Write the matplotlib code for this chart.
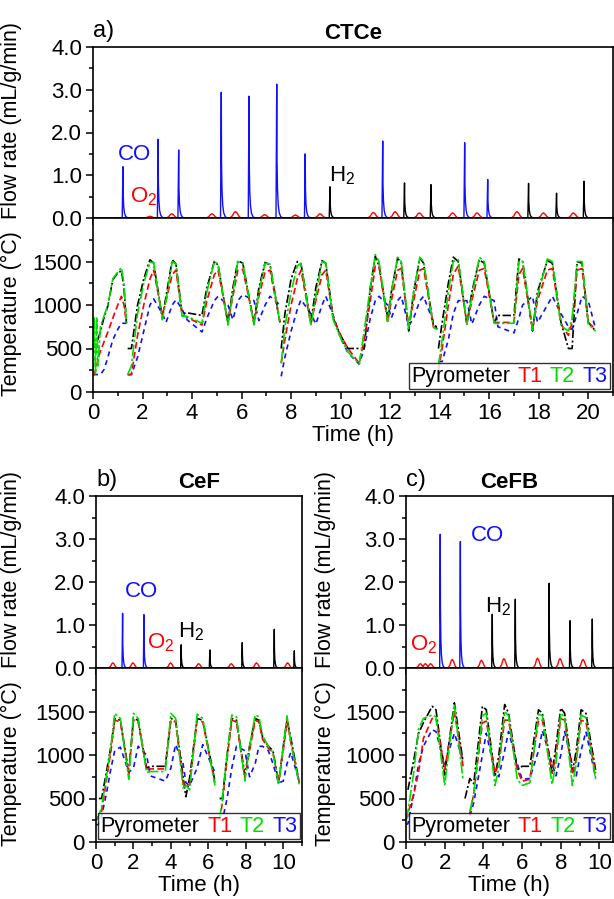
import numpy as np
import matplotlib
matplotlib.use('Agg')
import matplotlib.pyplot as plt
from matplotlib.ticker import MultipleLocator, FixedLocator
from matplotlib.lines import Line2D

plt.rcParams['font.family'] = 'Liberation Sans'
plt.rcParams['mathtext.fontset'] = 'custom'
plt.rcParams['mathtext.rm'] = 'Liberation Sans'
plt.rcParams['font.size'] = 16

nan = np.nan
BLUE, RED, GREEN, BLACK = '#1010ff', '#ff0000', '#00dd00', '#000000'

# peak shapes (offset in h, fraction of peak height)
SPIKE_DT = [-0.03, 0.0, 0.01, 0.03, 0.06, 0.10, 0.16, 0.25]
SPIKE_FRAC = [0.0, 1.0, 0.45, 0.22, 0.10, 0.04, 0.01, 0.0]
BUMP_DT = [-0.22, -0.12, -0.05, 0.0, 0.06, 0.14, 0.22]
BUMP_FRAC = [0.0, 0.35, 0.85, 1.0, 0.8, 0.3, 0.0]

## a) CTCe flow
a_co_t = [1.21, 2.63, 3.46, 5.18, 6.30, 7.42, 8.57, 11.70, 15.01, 15.94]
a_co_h = [1.20, 1.84, 1.59, 2.94, 2.85, 3.13, 1.50, 1.80, 1.76, 0.90]
a_h2_t = [9.57, 12.58, 13.65, 17.59, 18.72, 19.83]
a_h2_h = [0.73, 0.82, 0.78, 0.81, 0.58, 0.86]
a_o2_t = [2.30, 3.18, 4.80, 5.75, 6.93, 8.17, 9.17, 11.32, 12.20, 13.18, 14.52, 15.51, 17.12, 18.19, 19.40]
a_o2_h = [0.04, 0.10, 0.10, 0.15, 0.08, 0.07, 0.10, 0.13, 0.15, 0.12, 0.12, 0.12, 0.15, 0.12, 0.12]

## a) CTCe temperature, four measurement segments
a_seg_t = [
    [0.0, 0.05, 0.1, 0.15, 0.2, 0.3, 0.45, 0.6, 0.8, 1.0, 1.15, 1.25, 1.35],
    [1.40, 1.55, 1.8, 2.05, 2.3, 2.45, 2.8, 2.95, 3.2, 3.35, 3.6, 3.8, 4.4, 4.6, 4.9, 5.05,
     5.45, 5.65, 5.85, 6.05, 6.5, 6.7, 6.95, 7.15, 7.55],
    [7.6, 7.75, 8.0, 8.25, 8.4, 8.8, 9.0, 9.25, 9.4, 9.7, 10.0, 10.3, 10.75, 10.95, 11.2, 11.4,
     11.55, 11.9, 12.05, 12.3, 12.45, 12.75, 12.95, 13.2, 13.35, 13.75, 13.9],
    [13.95, 14.1, 14.35, 14.55, 14.75, 15.1, 15.3, 15.6, 15.8, 16.2, 16.35, 17.0, 17.2, 17.35,
     17.75, 17.95, 18.35, 18.55, 18.9, 19.2, 19.35, 19.55, 19.75, 20.0, 20.3],
]
a_pyro = [
    [nan, nan, nan, nan, 600, 700, 860, 990, 1290, 1370, 1390, 1200, 790],
    [500, 500, 1000, 1300, 1520, 1480, 850, 1100, 1520, 1470, 900, 910, 880, 1200, 1500, 1460,
     790, 1200, 1510, 1480, 790, 1200, 1490, 1460, 800],
    [500, 900, 1300, 1500, 1470, 800, 1200, 1510, 1480, 850, 650, 500, 500, 500, 1200, 1560,
     1450, 850, 1150, 1540, 1480, 700, 1150, 1540, 1480, 760, 750],
    [500, 800, 1250, 1550, 1500, 780, 1150, 1520, 1480, 800, 880, 880, 1530, 1500, 700, 1150,
     1510, 1480, 800, 500, 500, 1500, 1480, 800, 700],
]
a_t1 = [
    [200, 200, 250, 300, 380, 470, 580, 690, 850, 1000, 1100, 1000, 790],
    [200, 200, 650, 1000, 1300, 1400, 880, 1050, 1350, 1400, 880, 860, 770, 1050, 1350, 1400,
     800, 1100, 1400, 1410, 800, 1100, 1380, 1400, 800],
    [330, 600, 1000, 1300, 1400, 780, 1050, 1350, 1400, 850, 650, 500, 330, 600, 1050, 1450,
     1450, 800, 1050, 1400, 1420, 750, 1050, 1400, 1420, 750, 720],
    [250, 500, 1000, 1350, 1450, 780, 1050, 1400, 1420, 800, 800, 800, 1350, 1420, 720, 1050,
     1400, 1420, 780, 650, 800, 1400, 1420, 800, 720],
]
a_t2 = [
    [200, 860, 200, 860, 300, 750, 880, 1000, 1300, 1380, 1430, 1250, 790],
    [200, 300, 900, 1250, 1490, 1490, 830, 1050, 1500, 1470, 870, 870, 790, 1150, 1500, 1470,
     770, 1150, 1500, 1480, 770, 1150, 1480, 1470, 790],
    [330, 750, 1150, 1450, 1480, 760, 1100, 1500, 1480, 830, 620, 460, 320, 700, 1200, 1580,
     1500, 810, 1150, 1550, 1500, 730, 1150, 1550, 1500, 740, 720],
    [300, 600, 1150, 1500, 1520, 780, 1100, 1550, 1500, 790, 790, 790, 1500, 1500, 710, 1100,
     1530, 1500, 760, 700, 850, 1500, 1500, 780, 700],
]
a_t3 = [
    [200, 200, 200, 200, 200, 200, 260, 400, 600, 720, 790, 790, 790],
    [200, 200, 400, 700, 1000, 1070, 900, 800, 1000, 1060, 950, 830, 690, 850, 1050, 1100,
     1000, 830, 1050, 1120, 1050, 820, 1000, 1100, 1000],
    [180, 400, 700, 950, 1060, 900, 780, 1000, 1100, 880, 620, 450, 320, 500, 850, 1050,
     1100, 1000, 850, 1050, 1100, 760, 850, 1050, 1100, 800, 720],
    [350, 350, 600, 900, 1050, 1050, 780, 1000, 1100, 1050, 750, 680, 850, 1000, 1100, 800,
     1000, 1100, 900, 750, 720, 900, 1100, 1050, 720],
]

## b) CeF
b_co_t = [1.42, 2.56]
b_co_h = [1.27, 1.24]
b_h2_t = [4.55, 6.08, 7.81, 9.52, 10.59]
b_h2_h = [0.54, 0.42, 0.59, 0.90, 0.40]
b_o2_t = [0.90, 1.97, 3.98, 5.48, 7.22, 8.57, 10.23]
b_o2_h = [0.12, 0.12, 0.12, 0.10, 0.10, 0.12, 0.12]

b_seg_t = [
    [0.0, 0.15, 0.3, 0.55, 0.8, 1.0, 1.3, 1.75, 2.0, 2.25, 2.7, 2.9, 3.7, 4.0, 4.25, 4.65, 4.8,
     5.0, 5.4, 5.7, 6.35],
    [6.6, 6.75, 7.0, 7.25, 7.5, 7.95, 8.2, 8.5, 8.7, 8.9, 9.2, 9.45, 9.75, 10.0, 10.2, 10.4, 10.85],
]
b_pyro = [
    [nan, 500, 500, 800, 1100, 1420, 1400, 800, 1420, 1400, 850, 870, 870, 1420, 1400, 750, 520,
     740, 1420, 1400, 700],
    [500, 500, 1000, 1420, 1400, 770, 1100, 1420, 1400, 1200, 1100, 1050, 680, 1100, 1400, 1200, 680],
]
b_t1 = [
    [250, 300, 350, 700, 1050, 1400, 1380, 780, 1400, 1380, 830, 840, 840, 1400, 1380, 680, 650,
     660, 1400, 1380, 680],
    [250, 450, 950, 1400, 1380, 740, 1050, 1400, 1380, 1180, 1080, 1020, 690, 1050, 1400, 1150, 690],
]
b_t2 = [
    [250, 300, 400, 750, 1100, 1480, 1420, 720, 1480, 1420, 800, 810, 810, 1480, 1420, 620, 650,
     600, 1470, 1420, 650],
    [250, 500, 1000, 1460, 1440, 700, 1100, 1460, 1440, 1220, 1100, 1030, 660, 1100, 1450, 1150, 660],
]
b_t3 = [
    [200, 200, 300, 550, 850, 1050, 1090, 800, 850, 1100, 1000, 760, 700, 850, 1120, 900, 680,
     650, 850, 1120, 800],
    [250, 250, 500, 850, 1100, 1050, 750, 900, 1100, 1100, 1050, 900, 680, 700, 900, 1030, 700],
]

## c) CeFB
c_co_t = [1.77, 2.81]
c_co_h = [3.11, 2.94]
c_h2_t = [4.46, 5.65, 7.40, 8.48, 9.63]
c_h2_h = [1.25, 1.60, 1.97, 1.10, 1.14]
c_o2_t = [0.74, 1.00, 1.27, 2.39, 3.90, 5.06, 6.80, 7.96, 9.15]
c_o2_h = [0.10, 0.10, 0.10, 0.20, 0.18, 0.22, 0.23, 0.22, 0.20]

c_seg_t = [
    [0.0, 0.1, 0.4, 0.65, 0.9, 1.35, 1.55, 2.0, 2.5, 2.95],
    [3.05, 3.3, 3.5, 3.95, 4.15, 4.6, 4.8, 5.1, 5.3, 5.75, 6.0, 6.4, 6.85, 7.05, 7.55, 7.75, 8.0,
     8.2, 8.6, 8.8, 9.05, 9.3, 9.8],
]
c_pyro = [
    [nan, 600, 940, 1250, 1370, 1560, 1520, 770, 1600, 920],
    [500, 730, 670, 1560, 1520, 750, 1000, 1580, 1480, 830, 870, 870, 1520, 1480, 790, 1100, 1540,
     1480, 800, 1050, 1520, 1480, 830],
]
c_t1 = [
    [250, 330, 550, 800, 1190, 1420, 1420, 830, 1500, 870],
    [nan, 330, 550, 1370, 1390, 790, 900, 1400, 1400, 830, 700, 720, 1400, 1400, 790, 1000, 1420,
     1400, 780, 950, 1400, 1380, 790],
]
c_t2 = [
    [250, 350, 800, 1300, 1420, 1460, 1440, 650, 1580, 710],
    [nan, 350, 550, 1450, 1480, 650, 850, 1500, 1450, 720, 650, 680, 1470, 1450, 660, 900, 1480,
     1440, 650, 900, 1460, 1430, 720],
]
c_t3 = [
    [200, 210, 550, 900, 1100, 1290, 1270, 890, 1250, 940],
    [nan, 300, 450, 1000, 1250, 800, 750, 1050, 1270, 900, 720, 730, 1050, 1280, 900, 760, 1000,
     1270, 880, 760, 1050, 1270, 740],
]


def draw_peaks(ax, times, heights, dt, frac, color):
    for t0, h in zip(times, heights):
        ax.plot(t0 + np.array(dt), h * np.array(frac), color=color, lw=1.0, clip_on=False)


def style_axis(ax, xmax, xmajor):
    ax.set_xlim(0, xmax)
    ax.xaxis.set_major_locator(MultipleLocator(xmajor))
    ax.xaxis.set_minor_locator(MultipleLocator(xmajor / 2))
    ax.tick_params(which='major', direction='out', length=5, width=1.1, pad=3)
    ax.tick_params(which='minor', direction='out', length=3, width=1.1)
    for s in ax.spines.values():
        s.set_linewidth(1.2)


def panel(fig, rect_flow, rect_temp, xmax, xmajor, letter, name, co, h2, o2, segs, temps,
          labels, ylab_x, legloc):
    axf = fig.add_axes(rect_flow)
    axt = fig.add_axes(rect_temp)
    draw_peaks(axf, o2[0], o2[1], BUMP_DT, BUMP_FRAC, RED)
    draw_peaks(axf, co[0], co[1], SPIKE_DT, SPIKE_FRAC, BLUE)
    draw_peaks(axf, h2[0], h2[1], SPIKE_DT, SPIKE_FRAC, BLACK)
    axf.set_ylim(0, 4)
    axf.yaxis.set_major_locator(MultipleLocator(1))
    axf.yaxis.set_minor_locator(MultipleLocator(0.5))
    axf.yaxis.set_major_formatter('{x:.1f}')
    axf.tick_params(labelbottom=False)
    axf.set_ylabel('Flow rate (mL/g/min)', fontsize=15.5)
    axf.yaxis.set_label_coords(ylab_x, 0.57)
    style_axis(axf, xmax, xmajor)
    axf.text(0.0, 1.03, letter, transform=axf.transAxes, ha='left', va='bottom', fontsize=17)
    axf.set_title(name, fontweight='bold', fontsize=16, pad=6)
    for (tx, ty, s, c) in labels:
        axf.text(tx, ty, s, color=c, fontsize=16, ha='center', va='center')

    styles = [(BLUE, (0, (3, 2.5))), (BLACK, (0, (5, 1.5, 1.2, 1.5))),
              (RED, (0, (4, 2))), (GREEN, (0, (7, 1.5, 1.5, 1.5)))]
    pyro, t1, t2, t3 = temps
    for series, (c, ls) in zip([t3, pyro, t1, t2], styles):
        for ts, vs in zip(segs, series):
            axt.plot(ts, vs, color=c, ls=ls, lw=1.2)
    axt.set_ylim(0, 2000)
    axt.yaxis.set_major_locator(FixedLocator([0, 500, 1000, 1500]))
    axt.yaxis.set_minor_locator(FixedLocator([250, 750, 1250, 1750]))
    axt.set_ylabel('Temperature (°C)', fontsize=15.5)
    axt.yaxis.set_label_coords(ylab_x, 0.45)
    axt.set_xlabel('Time (h)', fontsize=16, labelpad=1)
    style_axis(axt, xmax, xmajor)
    axt.tick_params(which='both', top=False)

    hs = [Line2D([], [], linestyle='none') for _ in range(4)]
    leg = axt.legend(hs, ['Pyrometer', 'T1', 'T2', 'T3'], ncol=4, handlelength=0,
                     handletextpad=0, columnspacing=0.35, loc=legloc, fancybox=False,
                     edgecolor='black', borderpad=0.1, borderaxespad=0.15, fontsize=15.5)
    leg.get_frame().set_linewidth(1.0)
    for txt, c in zip(leg.get_texts(), [BLACK, RED, GREEN, BLUE]):
        txt.set_color(c)
    return axf, axt


W, H = 614, 899
fig = plt.figure(figsize=(W / 100, H / 100), dpi=100)


def rect(x0, x1, ytop, ybot):
    return [x0 / W, 1 - ybot / H, (x1 - x0) / W, (ybot - ytop) / H]


O2 = r'O$_\mathregular{2}$'
H2 = r'H$_\mathregular{2}$'

panel(fig, rect(93, 613, 47, 218), rect(93, 613, 218, 392), 21, 2, 'a)', 'CTCe',
      (a_co_t, a_co_h), (a_h2_t, a_h2_h), (a_o2_t, a_o2_h), a_seg_t,
      (a_pyro, a_t1, a_t2, a_t3),
      [(1.68, 1.48, 'CO', BLUE), (2.03, 0.5, O2, RED), (10.05, 1.0, H2, BLACK)],
      -0.137, 'lower right')
panel(fig, rect(96, 302, 496, 668), rect(96, 302, 668, 842), 11, 2, 'b)', 'CeF',
      (b_co_t, b_co_h), (b_h2_t, b_h2_h), (b_o2_t, b_o2_h), b_seg_t,
      (b_pyro, b_t1, b_t2, b_t3),
      [(2.45, 1.78, 'CO', BLUE), (3.44, 0.58, O2, RED), (5.1, 0.85, H2, BLACK)],
      -0.36, 'lower center')
panel(fig, rect(406, 613, 496, 668), rect(406, 613, 668, 842), 10.7, 2, 'c)', 'CeFB',
      (c_co_t, c_co_h), (c_h2_t, c_h2_h), (c_o2_t, c_o2_h), c_seg_t,
      (c_pyro, c_t1, c_t2, c_t3),
      [(4.2, 3.07, 'CO', BLUE), (0.92, 0.55, O2, RED), (4.76, 1.42, H2, BLACK)],
      -0.34, 'lower center')

fig.savefig('out.png', dpi=100)
